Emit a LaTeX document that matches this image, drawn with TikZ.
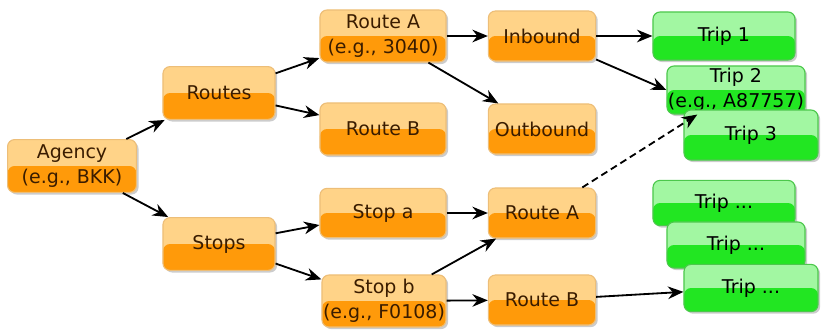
\documentclass[tikz,border=0pt]{standalone}
\usepackage{fontspec}
\setmainfont{DejaVu Sans}
\usetikzlibrary{arrows.meta,shadows}

\definecolor{orgtop}{HTML}{FFD388}
\definecolor{orgbot}{HTML}{FF9A0A}
\definecolor{orgline}{HTML}{EDBE78}
\definecolor{orgtext}{HTML}{3A1C00}
\definecolor{grntop}{HTML}{A2F7A2}
\definecolor{grnbot}{HTML}{22E622}
\definecolor{grnline}{HTML}{4CC84C}

\begin{document}
\begin{tikzpicture}[x=0.025cm, y=-0.025cm,
    box/.style={rounded corners=5pt, line width=0.8pt, align=center, inner sep=0pt,
        font=\fontsize{13.5}{18}\selectfont,
        drop shadow={shadow xshift=1.5pt, shadow yshift=-1.5pt, opacity=0.2, fill=black}},
    orangebox/.style={box, draw=orgline, fill=orgtop, text=orgtext,
        minimum width=3.15cm, minimum height=1.3cm,
        path picture={\fill[orgbot] (path picture bounding box.west) rectangle (path picture bounding box.south east);}},
    smallbox/.style={orangebox, minimum width=2.68cm, minimum height=1.25cm},
    greenbox/.style={box, draw=grnline, fill=grntop, text=black,
        minimum width=3.5cm, minimum height=1.2cm,
        path picture={\fill[grnbot] (path picture bounding box.west) rectangle (path picture bounding box.south east);}},
    link/.style={-{Stealth[length=11pt,width=9pt]}, line width=1.3pt}]
    \useasboundingbox (0,0) rectangle (830,330);

    % Draw nodes
    \node[orangebox, minimum width=3.22cm, minimum height=1.32cm] (agency) at (72,166) {Agency\\(e.g., BKK)};
    \node[orangebox, minimum width=2.8cm, minimum height=1.32cm] (routes) at (219,93) {Routes};
    \node[orangebox, minimum width=2.8cm, minimum height=1.32cm] (stops) at (219,244) {Stops};

    \node[orangebox] (routeA) at (383,36) {Route A\\(e.g., 3040)};
    \node[orangebox] (routeB) at (383,129) {Route B};
    \node[smallbox] (inbound) at (542,36) {Inbound};
    \node[smallbox] (outbound) at (542,129) {Outbound};

    \node[orangebox, minimum height=1.23cm] (stopa) at (383,213) {Stop a};
    \node[orangebox, minimum width=3.1cm] (stopb) at (384,301) {Stop b\\(e.g., F0108)};
    \node[smallbox] (routeA2) at (542,213) {Route A};
    \node[smallbox] (routeB2) at (542,300) {Route B};

    \node[greenbox, minimum width=3.55cm] (trip1) at (724,36) {Trip 1};
    \node[greenbox, minimum width=3.45cm] (trip2) at (736,90) {Trip 2\\(e.g., A87757)};
    \node[greenbox, minimum width=3.35cm, minimum height=1.25cm] (trip3) at (751,135) {Trip 3};

    \node[greenbox, minimum width=3.55cm, minimum height=1.13cm] (tripx1) at (724,203) {Trip ...};
    \node[greenbox, minimum width=3.45cm, minimum height=1.15cm] (tripx2) at (736,245) {Trip ...};
    \node[greenbox, minimum width=3.35cm, minimum height=1.18cm] (tripx3) at (751,288) {Trip ...};

    % Draw connections
    \draw[link] (agency) -- (routes);
    \draw[link] (agency) -- (stops);
    \draw[link] (routes) -- (routeA);
    \draw[link] (routes) -- (routeB);
    \draw[link] (routeA) -- (inbound);
    \draw[link] (routeA) -- (outbound);
    \draw[link] (inbound) -- (trip1);
    \draw[link] (inbound) -- (trip2.west);
    \draw[link] (stops) -- (stopa);
    \draw[link] (stops) -- (stopb);
    \draw[link] (stopa) -- (routeA2);
    \draw[link] (stopb) -- (routeA2);
    \draw[link] (stopb) -- (routeB2);
    \draw[link, dash pattern=on 5pt off 3pt] (routeA2) -- (trip2);
    \draw[link] (routeB2) -- (tripx3);
\end{tikzpicture}
\end{document}
